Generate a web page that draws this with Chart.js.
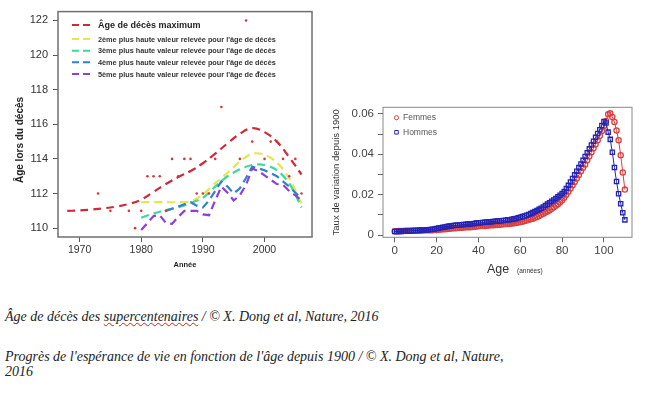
<!DOCTYPE html>
<html lang="fr">
<head>
<meta charset="UTF-8">
<title>Âge de décès des supercentenaires</title>
<script src="https://cdn.jsdelivr.net/npm/chart.js"></script>
<style>
    body {
        margin: 0;
        background: #fff;
        width: 661px;
        height: 394px;
        overflow: hidden;
        position: relative;
    }
    #leftChart { position: absolute; left: 0; top: 0; }
    #rightChart { position: absolute; left: 325px; top: 95px; }
    .caption {
        position: absolute;
        left: 5px;
        font-family: "Liberation Serif", "Times New Roman", serif;
        font-style: italic;
        font-size: 14px;
        line-height: 15px;
        color: #222;
        white-space: nowrap;
    }
    .spell {
        text-decoration: underline wavy #d02020;
        text-decoration-thickness: 1px;
    }
</style>
</head>
<body>
<canvas id="leftChart" width="320" height="280"></canvas>
<canvas id="rightChart" width="336" height="185"></canvas>
<div class="caption" style="top:309px">Âge de décès des <span class="spell">supercentenaires</span> / © X. Dong et al, Nature, 2016</div>
<div class="caption" style="top:349px">Progrès de l'espérance de vie en fonction de l'âge depuis 1900 / © X. Dong et al, Nature,<br>2016</div>

<script>
// ---- graphique de gauche : âge au décès par année ----
const leftLabels = [
    "Âge de décès maximum",
    "2ème plus haute valeur relevée pour l'âge de décès",
    "3ème plus haute valeur relevée pour l'âge de décès",
    "4ème plus haute valeur relevée pour l'âge de décès",
    "5ème plus haute valeur relevée pour l'âge de décès"
];
const leftColors = ["#d02838", "#e6e64c", "#3cd99a", "#2f80d0", "#8f3fd8"];

const maxYears = [1968, 1970, 1972, 1974, 1976, 1978, 1980, 1982, 1984, 1986, 1988, 1990, 1992, 1994, 1996, 1998, 2000, 2002, 2004, 2006];
const maxAges = [111.0, 111.02, 111.08, 111.15, 111.25, 111.4, 111.65, 112.1, 112.55, 112.95, 113.3, 113.75, 114.3, 114.9, 115.45, 115.78, 115.55, 115.0, 114.1, 113.1];

const secondYears = [1980, 1982, 1984, 1986, 1988, 1990, 1992, 1994, 1996, 1998, 2000, 2002, 2004, 2006];
const secondAges = [111.5, 111.5, 111.5, 111.5, 111.55, 111.95, 112.6, 113.2, 113.85, 114.3, 114.25, 113.8, 112.9, 111.4];

const thirdYears = [1980, 1982, 1984, 1986, 1988, 1990, 1992, 1994, 1996, 1998, 2000, 2002, 2004, 2006];
const thirdAges = [110.6, 110.85, 111.05, 111.2, 111.45, 111.75, 112.4, 113.0, 113.4, 113.65, 113.65, 113.35, 112.6, 111.2];

const fourthYears = [1984, 1986, 1988, 1989, 1990, 1991, 1993, 1994, 1995, 1996, 1997, 1998, 2000, 2002, 2004, 2006];
const fourthAges = [111.0, 111.25, 111.5, 111.3, 111.2, 111.6, 112.7, 112.4, 112.0, 112.3, 112.9, 113.55, 113.35, 113.0, 112.4, 111.7];

const fifthYears = [1980, 1981, 1982, 1983, 1984, 1985, 1986, 1987, 1988, 1989, 1990, 1991, 1992, 1993, 1994, 1995, 1996, 1997, 1998, 1999, 2000, 2001, 2002, 2003, 2004, 2005, 2006];
const fifthAges = [109.9, 110.3, 110.7, 110.75, 110.3, 110.25, 110.65, 111.0, 111.0, 111.0, 110.8, 110.75, 111.6, 112.4, 112.05, 111.6, 111.9, 112.5, 113.45, 113.3, 113.05, 112.8, 112.55, 112.5, 112.15, 111.9, 111.6];

// records individuels (points rouges)
const recordYears = [1973, 1975, 1978, 1979, 1980, 1981, 1982, 1983, 1984, 1985, 1986, 1987, 1988, 1989, 1990, 1991, 1992, 1993, 1996, 1997, 1998, 1999, 2000, 2001, 2002, 2003, 2004, 2005, 2006];
const recordAges = [112, 111, 111, 110, 111, 113, 113, 113, 111, 114, 113, 114, 114, 112, 112, 112, 114, 117, 114, 122, 115, 119, 114, 115, 115, 114, 113, 114, 112];

const yearTicks = [1970, 1980, 1990, 2000];
const ageTicks = [110, 112, 114, 116, 118, 120, 122];

// ---- graphique de droite : taux de variation depuis 1900 ----
const ages = [0, 1, 2, 3, 4, 5, 6, 7, 8, 9, 10, 11, 12, 13, 14, 15, 16, 17, 18, 19, 20,
    21, 22, 23, 24, 25, 26, 27, 28, 29, 30, 31, 32, 33, 34, 35, 36, 37, 38, 39, 40,
    41, 42, 43, 44, 45, 46, 47, 48, 49, 50, 51, 52, 53, 54, 55, 56, 57, 58, 59, 60,
    61, 62, 63, 64, 65, 66, 67, 68, 69, 70, 71, 72, 73, 74, 75, 76, 77, 78, 79, 80,
    81, 82, 83, 84, 85, 86, 87, 88, 89, 90, 91, 92, 93, 94, 95, 96, 97, 98, 99, 100,
    101, 102, 103, 104, 105, 106, 107, 108, 109, 110];

const femmes = [0.0019,
    0.0019, 0.0020, 0.0020, 0.0020, 0.0021, 0.0021, 0.0021, 0.0022, 0.0022, 0.0022,
    0.0022, 0.0023, 0.0023, 0.0023, 0.0023, 0.0024, 0.0024, 0.0024, 0.0025, 0.0025,
    0.0026, 0.0027, 0.0028, 0.0029, 0.0030, 0.0031, 0.0032, 0.0033, 0.0034, 0.0035,
    0.0036, 0.0036, 0.0037, 0.0038, 0.0039, 0.0039, 0.0040, 0.0041, 0.0042, 0.0043,
    0.0044, 0.0044, 0.0045, 0.0046, 0.0047, 0.0048, 0.0048, 0.0049, 0.0050, 0.0051,
    0.0052, 0.0053, 0.0054, 0.0055, 0.0056, 0.0057, 0.0058, 0.0060, 0.0062, 0.0064,
    0.0066, 0.0069, 0.0072, 0.0075, 0.0078, 0.0081, 0.0085, 0.0089, 0.0094, 0.0100,
    0.0105, 0.0111, 0.0117, 0.0123, 0.0130, 0.0137, 0.0145, 0.0153, 0.0162, 0.0172,
    0.0185, 0.0199, 0.0214, 0.0230, 0.0246, 0.0263, 0.0280, 0.0298, 0.0316, 0.0333,
    0.0350, 0.0370, 0.0390, 0.0410, 0.0430, 0.0450, 0.0470, 0.0492, 0.0515, 0.0540,
    0.0565, 0.0598, 0.0603, 0.0585, 0.0560, 0.0518, 0.0470, 0.0395, 0.0310, 0.0225];

const hommes = [0.0017,
    0.0017, 0.0018, 0.0018, 0.0019, 0.0019, 0.0020, 0.0020, 0.0021, 0.0021, 0.0022,
    0.0022, 0.0023, 0.0023, 0.0024, 0.0025, 0.0026, 0.0027, 0.0028, 0.0030, 0.0032,
    0.0034, 0.0036, 0.0038, 0.0040, 0.0042, 0.0044, 0.0045, 0.0047, 0.0048, 0.0049,
    0.0050, 0.0051, 0.0052, 0.0053, 0.0054, 0.0055, 0.0056, 0.0057, 0.0059, 0.0060,
    0.0061, 0.0062, 0.0063, 0.0064, 0.0065, 0.0066, 0.0067, 0.0068, 0.0069, 0.0070,
    0.0071, 0.0072, 0.0073, 0.0075, 0.0076, 0.0078, 0.0080, 0.0082, 0.0085, 0.0088,
    0.0091, 0.0094, 0.0098, 0.0102, 0.0106, 0.0111, 0.0116, 0.0121, 0.0127, 0.0133,
    0.0139, 0.0146, 0.0153, 0.0160, 0.0167, 0.0174, 0.0181, 0.0189, 0.0197, 0.0205,
    0.0215, 0.0230, 0.0246, 0.0263, 0.0280, 0.0298, 0.0316, 0.0334, 0.0352, 0.0370,
    0.0389, 0.0408, 0.0427, 0.0446, 0.0465, 0.0484, 0.0503, 0.0522, 0.0543, 0.0562,
    0.0555, 0.0510, 0.0474, 0.0410, 0.0335, 0.0265, 0.0204, 0.0155, 0.0110, 0.0075];

const ageAxisTicks = [0, 20, 40, 60, 80, 100];
const rateTicks = [0, 0.01, 0.02, 0.03, 0.04, 0.05, 0.06];

Chart.defaults.font.family = '"Liberation Sans", Arial, sans-serif';
Chart.defaults.animation = false;

function pairs(xs, ys) {
    return xs.map((x, i) => ({ x: x, y: ys[i] }));
}

// cadre gris autour de la zone de tracé
const frame = {
    id: "frame",
    afterDraw(chart, args, opts) {
        const a = chart.chartArea;
        const ctx = chart.ctx;
        ctx.save();
        ctx.strokeStyle = opts.color;
        ctx.lineWidth = opts.width;
        ctx.strokeRect(a.left, a.top, a.right - a.left, a.bottom - a.top);
        ctx.restore();
    }
};

// légende de gauche (tirets colorés + texte)
const leftLegend = {
    id: "leftLegend",
    afterDatasetsDraw(chart) {
        const ctx = chart.ctx;
        const rows = [25, 39, 50.7, 62.3, 74];
        ctx.save();
        chart.data.datasets.slice(0, 5).forEach((ds, i) => {
            ctx.strokeStyle = ds.borderColor;
            ctx.lineWidth = 2;
            ctx.setLineDash([7, 4]);
            ctx.beginPath();
            ctx.moveTo(72, rows[i]);
            ctx.lineTo(91, rows[i]);
            ctx.stroke();
            ctx.setLineDash([]);
            ctx.fillStyle = i === 0 ? "#222" : "#333";
            ctx.font = i === 0 ? 'bold 9px "Liberation Sans", Arial' : 'bold 7.3px "Liberation Sans", Arial';
            ctx.textBaseline = "middle";
            ctx.fillText(ds.label, 98, rows[i] + 0.5);
        });
        // titre de l'axe vertical
        ctx.translate(20, 140);
        ctx.rotate(-Math.PI / 2);
        ctx.textAlign = "center";
        ctx.textBaseline = "middle";
        ctx.font = 'bold 10px "Liberation Sans", Arial';
        ctx.fillStyle = "#222";
        ctx.fillText("Âge lors du décès", 0, 0);
        ctx.restore();
    }
};

// légende de droite (cercle / carré)
const rightLegend = {
    id: "rightLegend",
    afterDraw(chart) {
        const ctx = chart.ctx;
        ctx.save();
        chart.data.datasets.forEach((ds, i) => {
            const y = i === 0 ? 22.7 : 37.3;
            ctx.fillStyle = "rgba(0,0,0,0)";
            ctx.strokeStyle = ds.borderColor;
            ctx.lineWidth = 1;
            Chart.helpers.drawPoint(ctx, {
                pointStyle: ds.pointStyle,
                radius: ds.pointRadius - 0.5,
                borderWidth: 1
            }, 71.5, y);
            ctx.fillStyle = "#555";
            ctx.font = '8.5px "Liberation Sans", Arial';
            ctx.textBaseline = "middle";
            ctx.fillText(ds.label, 78, y);
        });
        // titre de l'axe horizontal
        ctx.fillStyle = "#333";
        ctx.textBaseline = "middle";
        ctx.font = '12.5px "Liberation Sans", Arial';
        ctx.fillText("Age", 162, 175);
        ctx.font = '6.5px "Liberation Sans", Arial';
        ctx.fillText("(années)", 192, 176);
        ctx.restore();
    }
};

const lineStyle = (i, tension, order) => ({
    label: leftLabels[i],
    borderColor: leftColors[i],
    backgroundColor: leftColors[i],
    borderWidth: 2.2,
    borderDash: [8, 5],
    pointRadius: 0,
    tension: tension,
    fill: false,
    order: order
});

new Chart(document.getElementById("leftChart"), {
    type: "line",
    data: {
        datasets: [
            Object.assign(lineStyle(0, 0.4, 5), { data: pairs(maxYears, maxAges) }),
            Object.assign(lineStyle(1, 0.3, 4), { data: pairs(secondYears, secondAges) }),
            Object.assign(lineStyle(2, 0.3, 3), { data: pairs(thirdYears, thirdAges) }),
            Object.assign(lineStyle(3, 0, 2), { data: pairs(fourthYears, fourthAges) }),
            Object.assign(lineStyle(4, 0, 1), { data: pairs(fifthYears, fifthAges) }),
            {
                label: "records",
                data: pairs(recordYears, recordAges),
                showLine: false,
                pointRadius: 1.3,
                pointBorderWidth: 0,
                pointBackgroundColor: "#cf3b3b",
                order: 0
            }
        ]
    },
    options: {
        responsive: false,
        layout: { padding: { left: 0, top: 9, right: 8, bottom: 0 } },
        plugins: {
            legend: { display: false },
            tooltip: { enabled: false },
            frame: { color: "#6f6f6f", width: 1.5 }
        },
        scales: {
            x: {
                type: "linear",
                min: 1966.5,
                max: 2007.7,
                afterBuildTicks: s => { s.ticks = yearTicks.map(v => ({ value: v })); },
                afterFit: s => { s.height = 43; },
                ticks: {
                    callback: v => String(v),
                    font: { size: 10.5 },
                    color: "#333",
                    padding: 2,
                    maxRotation: 0,
                    autoSkip: false
                },
                grid: { drawOnChartArea: false, tickLength: 5, tickColor: "#555", tickWidth: 1 },
                border: { display: false },
                title: {
                    display: true,
                    text: "Année",
                    font: { size: 7.5, weight: "bold" },
                    color: "#222",
                    padding: { top: 0, bottom: 10.5 }
                }
            },
            y: {
                min: 109.49,
                max: 122.51,
                afterBuildTicks: s => { s.ticks = ageTicks.map(v => ({ value: v })); },
                afterFit: s => { s.width = 58; },
                ticks: {
                    callback: v => String(v),
                    font: { size: 11 },
                    color: "#333",
                    padding: 5
                },
                grid: { drawOnChartArea: false, tickLength: 5, tickColor: "#555", tickWidth: 1 },
                border: { display: false }
            }
        }
    },
    plugins: [frame, leftLegend]
});

new Chart(document.getElementById("rightChart"), {
    type: "line",
    data: {
        datasets: [
            {
                label: "Femmes",
                data: pairs(ages, femmes),
                borderColor: "#d8413f",
                backgroundColor: "rgba(0,0,0,0)",
                borderWidth: 1,
                pointStyle: "circle",
                pointRadius: 2.6,
                pointBorderWidth: 1.3,
                pointBackgroundColor: "rgba(0,0,0,0)",
                order: 2
            },
            {
                label: "Hommes",
                data: pairs(ages, hommes),
                borderColor: "#2323b4",
                backgroundColor: "rgba(0,0,0,0)",
                borderWidth: 1,
                pointStyle: "rect",
                pointRadius: 3,
                pointBorderWidth: 1.3,
                pointBackgroundColor: "rgba(0,0,0,0)",
                order: 1
            }
        ]
    },
    options: {
        responsive: false,
        layout: { padding: { left: 0, top: 12.3, right: 29, bottom: 0 } },
        plugins: {
            legend: { display: false },
            tooltip: { enabled: false },
            frame: { color: "#888", width: 1 }
        },
        scales: {
            x: {
                type: "linear",
                min: -5.6,
                max: 113.4,
                afterBuildTicks: s => { s.ticks = ageAxisTicks.map(v => ({ value: v })); },
                afterFit: s => { s.height = 42.7; },
                ticks: {
                    callback: v => String(v),
                    font: { size: 11.5 },
                    color: "#444",
                    padding: 2,
                    maxRotation: 0,
                    autoSkip: false
                },
                grid: { drawOnChartArea: false, tickLength: 5, tickColor: "#666", tickWidth: 1 },
                border: { display: false }
            },
            y: {
                min: -0.00114,
                max: 0.0633,
                afterBuildTicks: s => { s.ticks = rateTicks.map(v => ({ value: v })); },
                afterFit: s => { s.width = 58; },
                ticks: {
                    callback: v => (Math.round(v * 100) % 2 === 0 ? (v === 0 ? "0" : v.toFixed(2)) : ""),
                    font: { size: 11.5 },
                    color: "#444",
                    padding: 4,
                    autoSkip: false
                },
                grid: { drawOnChartArea: false, tickLength: 5, tickColor: "#666", tickWidth: 1 },
                border: { display: false },
                title: {
                    display: true,
                    text: "Taux de variation depuis 1900",
                    font: { size: 9.5 },
                    color: "#333",
                    padding: { top: 6, bottom: 0 }
                }
            }
        }
    },
    plugins: [frame, rightLegend]
});
</script>
</body>
</html>
